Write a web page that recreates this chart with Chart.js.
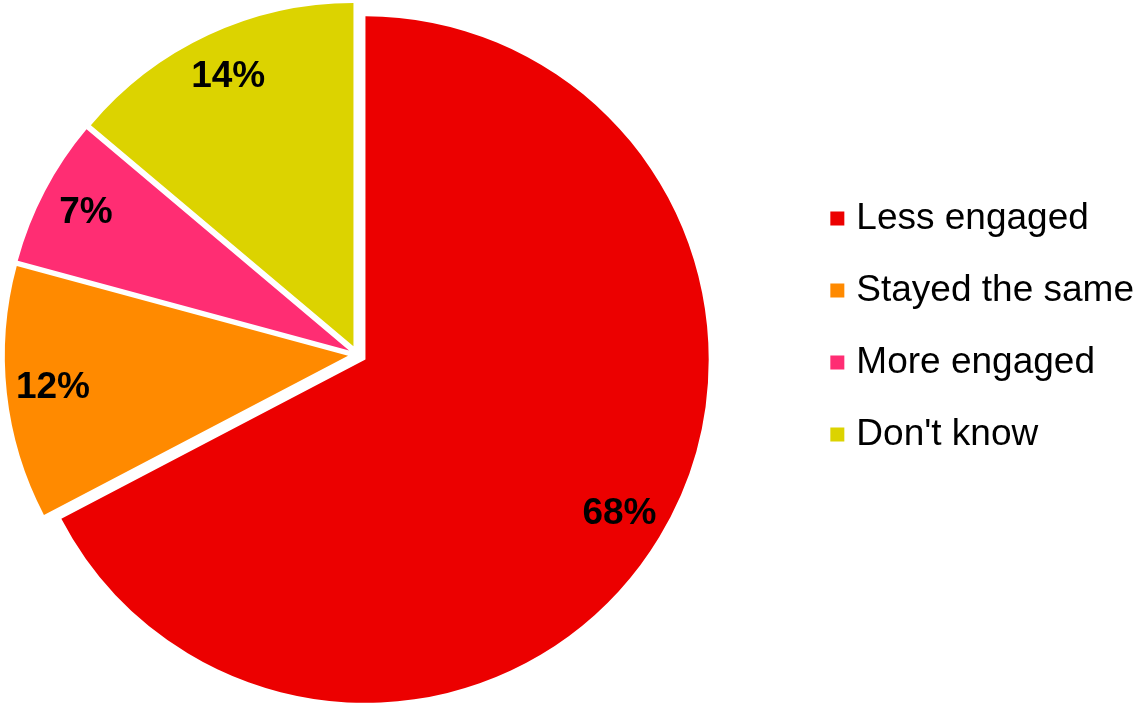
<!DOCTYPE html>
<html>
<head>
<meta charset="utf-8">
<title>Engagement</title>
<script src="https://cdn.jsdelivr.net/npm/chart.js@4.4.1/dist/chart.umd.min.js"></script>
<style>
  html, body { margin: 0; padding: 0; background: #fff; overflow: hidden; width: 1137px; height: 704px; }
  /* canvas runs a little past the left edge so the pie sits close to it */
  canvas { display: block; margin-left: -87px; }
</style>
</head>
<body>
<canvas id="canvas" width="1231" height="704"></canvas>
<script>
const categories = ['Less engaged', 'Stayed the same', 'More engaged', "Don't know"];
const shares = [68, 12, 7, 14];
const sliceColors = ['#EC0000', '#FF8A00', '#FF2D73', '#DCD300'];

const FONT = 'Arial, "Liberation Sans", sans-serif';

// pull every slice away from the centre along its middle angle
const explode = {
  id: 'explode',
  beforeDatasetsDraw(chart, args, opts) {
    const area = chart.chartArea;
    const cx = (area.left + area.right) / 2;
    const cy = (area.top + area.bottom) / 2;
    chart.getDatasetMeta(0).data.forEach(arc => {
      const mid = (arc.startAngle + arc.endAngle) / 2;
      arc.x = cx + Math.cos(mid) * opts.distance;
      arc.y = cy + Math.sin(mid) * opts.distance;
    });
  }
};

// percentage written inside each slice, near the rim
const sliceLabels = {
  id: 'sliceLabels',
  afterDatasetsDraw(chart, args, opts) {
    const ctx = chart.ctx;
    const values = chart.data.datasets[0].data;
    ctx.save();
    ctx.font = opts.font;
    ctx.fillStyle = opts.color;
    ctx.textAlign = 'center';
    ctx.textBaseline = 'middle';
    chart.getDatasetMeta(0).data.forEach((arc, i) => {
      const mid = (arc.startAngle + arc.endAngle) / 2;
      const r = arc.outerRadius * opts.position;
      ctx.fillText(values[i] + '%', arc.x + Math.cos(mid) * r, arc.y + Math.sin(mid) * r);
    });
    ctx.restore();
  }
};

const ctx = document.getElementById('canvas').getContext('2d');
const chart = new Chart(ctx, {
  type: 'pie',
  data: {
    labels: categories,
    datasets: [{
      data: shares,
      backgroundColor: sliceColors,
      borderWidth: 0,
      hoverOffset: 0
    }]
  },
  plugins: [explode, sliceLabels],
  options: {
    responsive: false,
    animation: false,
    layout: {
      padding: { left: 0, right: 0, top: 11.5, bottom: 6 }
    },
    plugins: {
      explode: { distance: 9.4 },
      sliceLabels: { font: 'bold 37px ' + FONT, color: '#000', position: 0.865 },
      tooltip: { enabled: false },
      legend: {
        position: 'right',
        align: 'start',
        title: { display: true, text: '', font: { size: 10 }, padding: { top: 141.5, bottom: 0 } },
        labels: {
          usePointStyle: true,
          pointStyle: 'rect',
          boxWidth: 1,
          boxHeight: 14,
          padding: 35,
          color: '#000',
          font: { family: FONT, size: 37 }
        }
      }
    }
  }
});
</script>
</body>
</html>
